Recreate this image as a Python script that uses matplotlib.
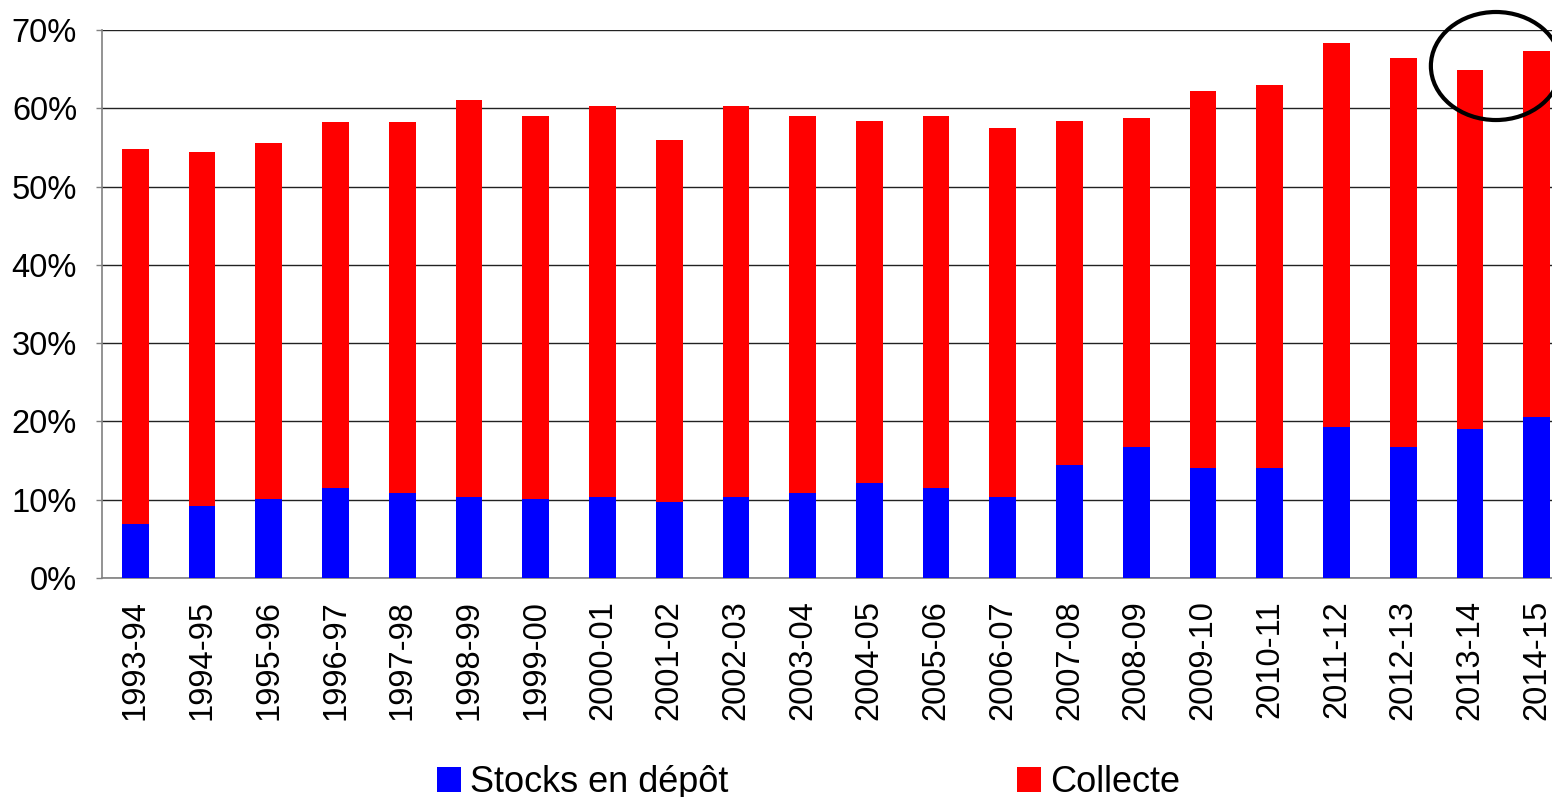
import matplotlib
matplotlib.use("Agg")
import matplotlib.pyplot as plt
from matplotlib.patches import Ellipse, Patch
from matplotlib.ticker import FuncFormatter, MultipleLocator

plt.rcParams['font.family'] = ['Liberation Sans', 'DejaVu Sans']

seasons = ["1993-94", "1994-95", "1995-96", "1996-97", "1997-98", "1998-99",
           "1999-00", "2000-01", "2001-02", "2002-03", "2003-04", "2004-05",
           "2005-06", "2006-07", "2007-08", "2008-09", "2009-10", "2010-11",
           "2011-12", "2012-13", "2013-14", "2014-15"]
# share held as stocks in deposit (%)
stocks = [6.9, 9.2, 10.1, 11.5, 10.8, 10.4, 10.1, 10.4, 9.7, 10.4, 10.8, 12.1,
          11.5, 10.4, 14.4, 16.7, 14.0, 14.0, 19.3, 16.7, 19.0, 20.6]
# total share (stocks + collection), top of each stacked bar (%)
total = [54.8, 54.4, 55.6, 58.3, 58.3, 61.1, 59.0, 60.3, 56.0, 60.3, 59.0, 58.4,
         59.0, 57.5, 58.4, 58.8, 62.2, 63.0, 68.3, 66.4, 64.9, 67.3]
collecte = [t - s for t, s in zip(total, stocks)]

fig = plt.figure(figsize=(15.52, 7.97), dpi=100)
ax = fig.add_axes([102 / 1552, 1 - 578 / 797, (1570 - 102) / 1552, (578 - 30) / 797])

x = list(range(len(seasons)))
ax.bar(x, stocks, width=0.4, color="#0000FF", zorder=3)
ax.bar(x, collecte, width=0.4, bottom=stocks, color="#FF0000", zorder=3)

ax.set_xlim(-0.5, len(seasons) - 0.5)
ax.set_ylim(0, 70)
ax.yaxis.set_major_locator(MultipleLocator(10))
ax.yaxis.set_major_formatter(FuncFormatter(lambda v, p: f"{v:.0f}%"))
ax.grid(axis="y", color="#222222", linewidth=1.0, zorder=0)

ax.set_xticks(x)
ax.set_xticklabels(seasons, rotation=90, fontsize=23.5)
ax.tick_params(axis="x", length=0, pad=16)
ax.tick_params(axis="y", labelsize=23.5, length=4, width=1, color="#808080", pad=14)

for side in ("top", "right"):
    ax.spines[side].set_visible(False)
ax.spines["left"].set_color("#808080")
ax.spines["bottom"].set_color("#808080")
ax.spines["left"].set_linewidth(1.2)
ax.spines["bottom"].set_linewidth(1.2)

# highlight on the latest seasons
ax.add_patch(Ellipse((20.39, 65.4), width=1.95, height=13.8, fill=False,
                     edgecolor="black", linewidth=3, clip_on=False, zorder=5))

handles = [Patch(facecolor="#0000FF", edgecolor="none"),
           Patch(facecolor="#FF0000", edgecolor="none")]
fig.legend(handles, ["Stocks en dépôt", "Collecte"], ncol=2,
           loc="lower left", bbox_to_anchor=(415 / 1552, -0.031),
           frameon=False, prop={"size": 26},
           handlelength=0.67, handleheight=0.69, handletextpad=0.25,
           columnspacing=8.0, borderpad=0.1)

fig.savefig("out.png", dpi=100)
